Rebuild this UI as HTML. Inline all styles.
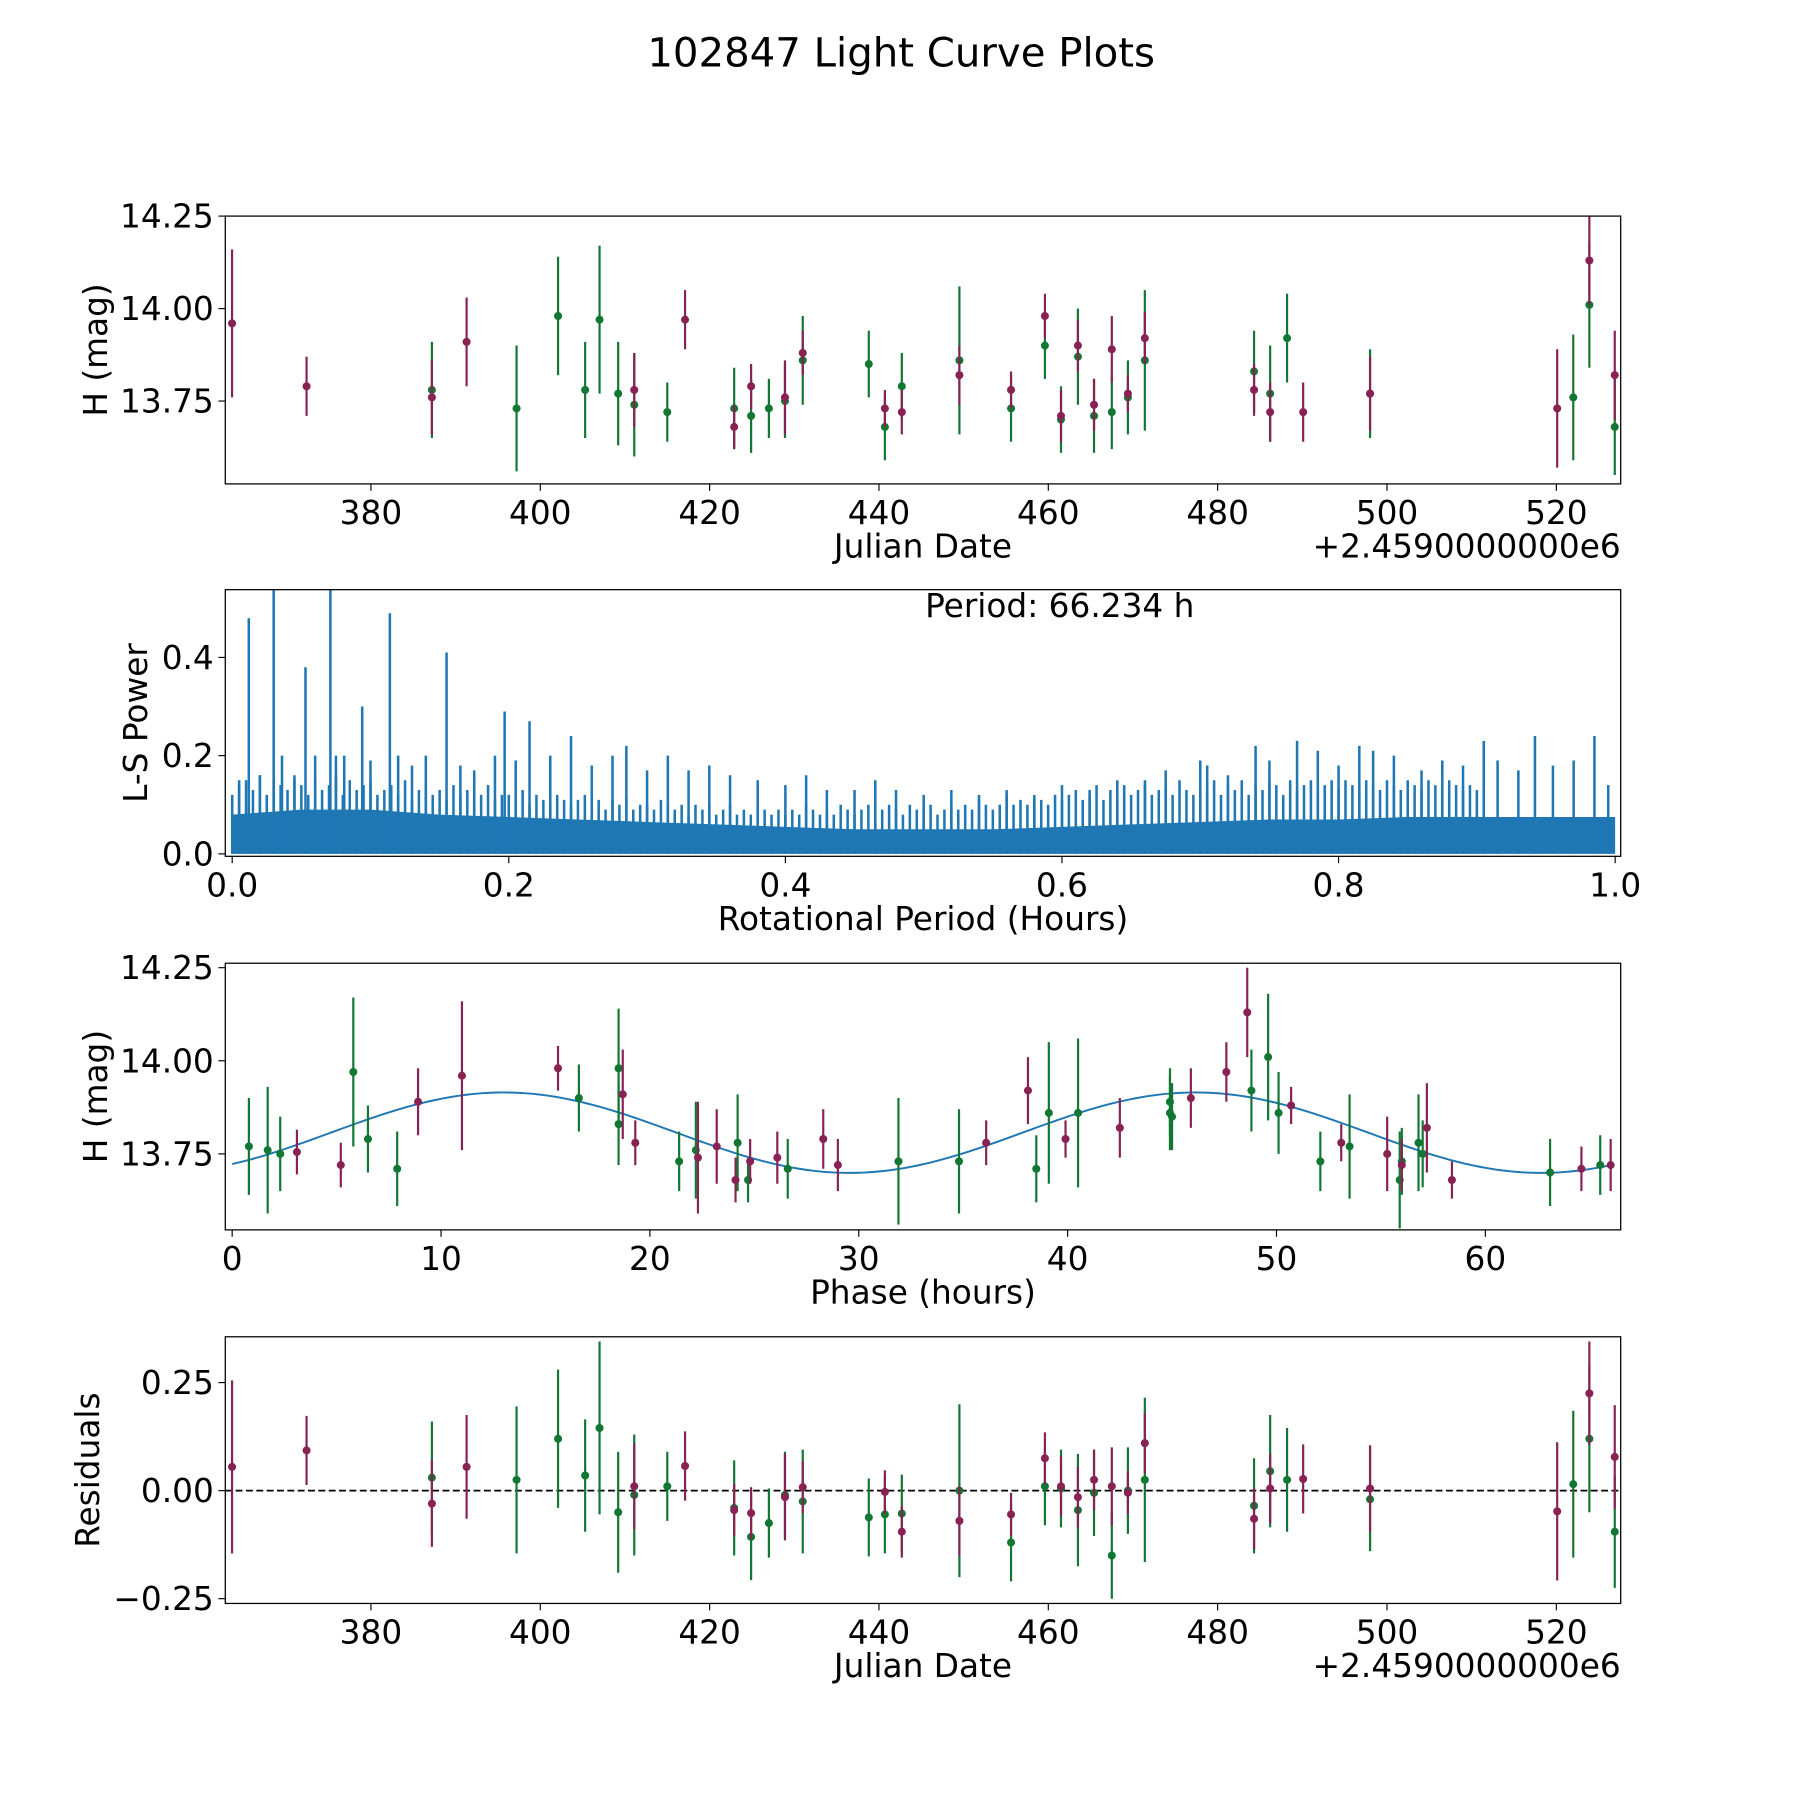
<!DOCTYPE html>
<html><head><meta charset="utf-8"><style>
html,body{margin:0;padding:0;background:#fff}
svg{display:block;font-family:"DejaVu Sans","Liberation Sans",sans-serif}
</style></head><body>
<svg id="fig" width="1800" height="1800" viewBox="0 0 1566 1566" xmlns="http://www.w3.org/2000/svg">
<text x="784" y="58" font-size="35" text-anchor="middle">102847 Light Curve Plots</text>
</svg>
<script>
// ---- Panel 1: light curve (Julian date offset, H mag, error) ----
const lcPurpleJD=[363.6,372.4,387.2,391.3,411.1,417.1,422.9,424.9,428.9,431.0,440.7,442.7,449.5,455.6,459.6,461.5,463.5,465.4,467.5,469.4,471.4,484.3,486.2,490.1,498.0,520.1,523.9,526.9];
const lcPurpleMag=[13.96,13.79,13.76,13.91,13.78,13.97,13.68,13.79,13.76,13.88,13.73,13.72,13.82,13.78,13.98,13.71,13.90,13.74,13.89,13.77,13.92,13.78,13.72,13.72,13.77,13.73,14.13,13.82];
const lcPurpleErr=[0.2,0.08,0.1,0.12,0.1,0.08,0.06,0.06,0.1,0.06,0.05,0.06,0.08,0.05,0.06,0.07,0.07,0.07,0.09,0.05,0.07,0.07,0.08,0.08,0.1,0.16,0.12,0.12];
const lcGreenJD=[387.2,397.2,402.1,405.3,407.0,409.2,411.1,415.0,422.9,424.9,427.0,428.9,431.0,438.8,440.7,442.7,449.5,455.6,459.6,461.5,463.5,465.4,467.5,469.4,471.4,484.3,486.2,488.2,498.0,522.0,523.9,526.9];
const lcGreenMag=[13.78,13.73,13.98,13.78,13.97,13.77,13.74,13.72,13.73,13.71,13.73,13.75,13.86,13.85,13.68,13.79,13.86,13.73,13.90,13.70,13.87,13.71,13.72,13.76,13.86,13.83,13.77,13.92,13.77,13.76,14.01,13.68];
const lcGreenErr=[0.13,0.17,0.16,0.13,0.2,0.14,0.14,0.08,0.11,0.1,0.08,0.1,0.12,0.09,0.09,0.09,0.2,0.09,0.09,0.09,0.13,0.1,0.1,0.1,0.19,0.11,0.13,0.12,0.12,0.17,0.17,0.13];
// ---- Panel 4: residuals ----
const resPurple=[0.055,0.093,-0.03,0.055,0.01,0.057,-0.045,-0.052,-0.015,0.008,-0.003,-0.095,-0.07,-0.055,0.075,0.01,-0.015,0.025,0.01,-0.005,0.11,-0.065,0.005,0.027,0.005,-0.048,0.225,0.078];
const resGreen=[0.03,0.025,0.12,0.035,0.145,-0.05,-0.01,0.01,-0.04,-0.107,-0.075,-0.01,-0.025,-0.062,-0.055,-0.053,0.0,-0.12,0.01,0.005,-0.045,-0.005,-0.15,0.0,0.025,-0.035,0.045,0.025,-0.02,0.015,0.12,-0.095];
// ---- Panel 2: periodogram ----
const pgEnvX=[0,0.05,0.1,0.15,0.2,0.25,0.3,0.35,0.4,0.45,0.5,0.55,0.6,0.65,0.7,0.75,0.8,0.85,0.9,0.95,1.0];
const pgEnvP=[0.08,0.09,0.09,0.08,0.075,0.07,0.065,0.06,0.055,0.05,0.05,0.05,0.055,0.06,0.065,0.07,0.07,0.075,0.075,0.075,0.075];
const pgPeakX=[0.005,0.012,0.02,0.03,0.036,0.045,0.053,0.06,0.071,0.075,0.081,0.094,0.1,0.114,0.12,0.13,0.14,0.155,0.165,0.175,0.19,0.197,0.205,0.215,0.23,0.245,0.26,0.275,0.285,0.3,0.315,0.33,0.345,0.36,0.38,0.4,0.415,0.43,0.45,0.465,0.48,0.5,0.52,0.54,0.56,0.58,0.6,0.62,0.64,0.66,0.675,0.7,0.705,0.72,0.74,0.75,0.77,0.785,0.8,0.815,0.825,0.84,0.86,0.875,0.89,0.905,0.915,0.93,0.942,0.955,0.97,0.985,0.995];
const pgPeakP=[0.15,0.48,0.16,0.55,0.2,0.15,0.38,0.2,0.55,0.2,0.2,0.3,0.19,0.49,0.2,0.18,0.2,0.41,0.18,0.17,0.2,0.29,0.19,0.27,0.2,0.24,0.18,0.2,0.22,0.17,0.2,0.17,0.18,0.16,0.15,0.14,0.16,0.13,0.13,0.15,0.13,0.12,0.13,0.12,0.13,0.11,0.14,0.13,0.15,0.14,0.17,0.19,0.18,0.16,0.22,0.19,0.23,0.21,0.18,0.22,0.21,0.2,0.17,0.19,0.18,0.23,0.19,0.17,0.24,0.18,0.19,0.24,0.14];
// secondary (noise-level) spikes, one every 0.005 in period
const pgNoiseP=[0.12,0.14,0.15,0.13,0.16,0.12,0.15,0.14,0.13,0.16,0.14,0.12,0.15,0.13,0.14,0.16,0.12,0.15,0.13,0.14,0.15,0.12,0.13,0.14,0.12,0.15,0.11,0.13,0.14,0.12,0.13,0.11,0.14,0.12,0.13,0.11,0.12,0.14,0.11,0.12,
0.12,0.11,0.13,0.1,0.12,0.11,0.1,0.12,0.11,0.1,0.11,0.12,0.1,0.11,0.09,0.11,0.1,0.12,0.09,0.1,0.1,0.09,0.11,0.1,0.09,0.1,0.08,0.1,0.09,0.1,0.08,0.09,0.1,0.08,0.09,0.08,0.1,0.09,0.08,0.09,
0.08,0.09,0.08,0.1,0.09,0.08,0.09,0.08,0.1,0.09,0.08,0.09,0.1,0.08,0.09,0.1,0.09,0.08,0.1,0.09,0.09,0.1,0.08,0.09,0.1,0.09,0.1,0.09,0.11,0.1,0.09,0.1,0.12,0.1,0.11,0.1,0.12,0.11,0.1,0.12,
0.11,0.12,0.13,0.11,0.12,0.14,0.11,0.13,0.12,0.14,0.12,0.13,0.15,0.12,0.13,0.14,0.12,0.15,0.13,0.12,0.14,0.13,0.15,0.12,0.14,0.13,0.15,0.12,0.14,0.13,0.15,0.14,0.12,0.15,0.13,0.14,0.15,0.13,0.14,0.15,
0.13,0.15,0.14,0.13,0.15,0.14,0.13,0.15,0.14,0.13,0.15,0.14,0.13,0.15,0.14,0.13,0.15,0.14,0.13,0.14,0.13];
// ---- Panel 3: phased light curve ----
const phPurpleT=[5.2,3.1,11.0,8.9,15.6,18.7,19.3,22.3,23.2,24.8,26.1,28.3,29.0,24.1,36.1,38.1,39.9,42.5,45.9,47.6,48.6,50.7,53.1,55.3,56.0,57.2,58.4,64.6,66.0];
const phPurpleMag=[13.72,13.755,13.96,13.89,13.98,13.91,13.78,13.74,13.77,13.73,13.74,13.79,13.72,13.68,13.78,13.92,13.79,13.82,13.90,13.97,14.13,13.88,13.78,13.75,13.72,13.82,13.68,13.71,13.72];
const phPurpleErr=[0.06,0.06,0.2,0.09,0.06,0.12,0.06,0.15,0.1,0.06,0.07,0.08,0.07,0.06,0.06,0.09,0.05,0.08,0.08,0.08,0.12,0.05,0.05,0.1,0.07,0.12,0.05,0.06,0.07];
const phGreenT=[0.8,1.7,2.3,5.8,6.5,7.9,16.6,18.5,18.5,21.4,22.2,24.2,24.7,26.6,31.9,34.8,38.5,39.1,40.5,44.9,44.9,45.0,48.8,49.6,50.1,52.1,53.5,55.9,56.0,56.8,57.0,63.1,65.5];
const phGreenMag=[13.77,13.76,13.75,13.97,13.79,13.71,13.90,13.98,13.83,13.73,13.76,13.78,13.68,13.71,13.73,13.73,13.71,13.86,13.86,13.89,13.86,13.85,13.92,14.01,13.86,13.73,13.77,13.68,13.73,13.78,13.75,13.70,13.72];
const phGreenErr=[0.13,0.17,0.1,0.2,0.09,0.1,0.09,0.16,0.11,0.08,0.13,0.13,0.06,0.08,0.17,0.14,0.09,0.19,0.2,0.09,0.1,0.09,0.11,0.17,0.11,0.08,0.14,0.13,0.09,0.13,0.09,0.09,0.08];
const fitMean=13.807, fitAmp=0.108, fitPeriod=33.117, fitPeak=13.0;
const PURPLE="#882255", GREEN="#117733", BLUE="#1f77b4";
const NS="http://www.w3.org/2000/svg";
const svg=document.getElementById('fig');
const L=196,R=1410,FS=28.5;
function mk(tag,attrs,parent){const e=document.createElementNS(NS,tag);for(const k in attrs)e.setAttribute(k,attrs[k]);(parent||svg).appendChild(e);return e;}
function lin(d0,d1,r0,r1){return v=>r0+(v-d0)*(r1-r0)/(d1-d0);}
function axes(name,top,bot,xd,yd,xticks,xfmt,yticks,yfmt,xlabel,ylabel,offset){
  const g=mk('g',{});
  
  
  const sx=lin(xd[0],xd[1],L,R), sy=lin(yd[0],yd[1],bot,top);
  const xa=mk('g',{},g);
  
  
  xticks.forEach(t=>{const x=sx(t);mk('line',{x1:x,x2:x,y1:bot,y2:bot+6,stroke:'#000','stroke-width':1},xa);
    const tx=mk('text',{x:x,y:bot+35,'font-size':FS,'text-anchor':'middle'},xa);tx.textContent=xfmt(t);
    
    });
  const ya=mk('g',{},g);
  
  
  yticks.forEach(t=>{const y=sy(t);mk('line',{x1:L-6,x2:L,y1:y,y2:y,stroke:'#000','stroke-width':1},ya);
    const tx=mk('text',{x:L-10,y:y+10,'font-size':FS,'text-anchor':'end'},ya);tx.textContent=yfmt(t);
    
    });
  const xl=mk('text',{x:(L+R)/2,y:bot+64,'font-size':FS,'text-anchor':'middle'},g);xl.textContent=xlabel;
  
  
  const yl=mk('text',{x:0,y:0,'font-size':FS,'text-anchor':'middle',transform:`translate(${ylabel[1]},${(top+bot)/2}) rotate(-90)`},g);yl.textContent=ylabel[0];
  
  
  if(offset){const o=mk('text',{x:R,y:bot+64,'font-size':FS,'text-anchor':'end'},g);o.textContent=offset;
    
    }
  const clip='c'+name;const cp=mk('clipPath',{id:clip},g);mk('rect',{x:L,y:top,width:R-L,height:bot-top},cp);
  const plot=mk('g',{'clip-path':`url(#${clip})`},g);
  
  
  return {g,sx,sy,plot,top,bot};
}
function frame(a){const f=mk('rect',{x:L,y:a.top,width:R-L,height:a.bot-a.top,fill:'none',stroke:'#000','stroke-width':1.1},a.g);
  
  }
function errSeries(a,xs,ys,es,color,name){
  xs.forEach((x,i)=>{const px=a.sx(x);
    const l=mk('line',{x1:px,x2:px,y1:a.sy(ys[i]-es[i]),y2:a.sy(ys[i]+es[i]),stroke:color,'stroke-width':1.9},a.plot);
    
    
    const c=mk('circle',{cx:px,cy:a.sy(ys[i]),r:3.5,fill:color},a.plot);
    
    });
}
const jdTicks=[380,400,420,440,460,480,500,520];
// Panel 1
const a1=axes('light-curve-panel',188,421,[362.8,527.6],[13.526,14.25],jdTicks,String,[13.75,14.0,14.25],v=>v.toFixed(2),'Julian Date',['H (mag)',93],'+2.4590000000e6');
errSeries(a1,lcGreenJD,lcGreenMag,lcGreenErr,GREEN,'green');
errSeries(a1,lcPurpleJD,lcPurpleMag,lcPurpleErr,PURPLE,'purple');
frame(a1);
// Panel 2
const a2=axes('periodogram-panel',513,745,[-0.005,1.004],[-0.005,0.538],[0,0.2,0.4,0.6,0.8,1.0],v=>v.toFixed(1),[0,0.2,0.4],v=>v.toFixed(1),'Rotational Period (Hours)',['L-S Power',128],null);
let pts=`${a2.sx(0)},${a2.sy(0)} `+pgEnvX.map((x,i)=>`${a2.sx(x)},${a2.sy(pgEnvP[i])}`).join(' ')+` ${a2.sx(1)},${a2.sy(0)}`;
const env=mk('polygon',{points:pts,fill:BLUE},a2.plot);


pgNoiseP.forEach((p,i)=>{const x=i*0.005;const l=mk('line',{x1:a2.sx(x),x2:a2.sx(x),y1:a2.sy(0),y2:a2.sy(p),stroke:BLUE,'stroke-width':2.2},a2.plot);
  
  });
pgPeakX.forEach((x,i)=>{const l=mk('line',{x1:a2.sx(x),x2:a2.sx(x),y1:a2.sy(0),y2:a2.sy(pgPeakP[i]),stroke:BLUE,'stroke-width':2.2},a2.plot);
  
  });
const pt=mk('text',{x:922,y:537,'font-size':FS,'text-anchor':'middle'},a2.g);pt.textContent='Period: 66.234 h';


frame(a2);
// Panel 3
const a3=axes('phase-panel',838,1070,[-0.33,66.48],[13.546,14.262],[0,10,20,30,40,50,60],String,[13.75,14.0,14.25],v=>v.toFixed(2),'Phase (hours)',['H (mag)',93],null);
let d='';for(let t=0;t<=66.234;t+=0.25){const y=fitMean+fitAmp*Math.cos(2*Math.PI*(t-fitPeak)/fitPeriod);d+=(d?'L':'M')+a3.sx(t).toFixed(2)+','+a3.sy(y).toFixed(2);}
const fit=mk('path',{d:d,fill:'none',stroke:BLUE,'stroke-width':1.7},a3.plot);


errSeries(a3,phGreenT,phGreenMag,phGreenErr,GREEN,'green');
errSeries(a3,phPurpleT,phPurpleMag,phPurpleErr,PURPLE,'purple');
frame(a3);
// Panel 4
const a4=axes('residuals-panel',1163,1395,[362.8,527.6],[-0.261,0.356],jdTicks,String,[-0.25,0,0.25],v=>(v<0?'\u2212':'')+Math.abs(v).toFixed(2),'Julian Date',['Residuals',86],'+2.4590000000e6');
const zl=mk('line',{x1:L,x2:R,y1:a4.sy(0),y2:a4.sy(0),stroke:'#000','stroke-width':1.5,'stroke-dasharray':'6,3'},a4.plot);


errSeries(a4,lcGreenJD,resGreen,lcGreenErr,GREEN,'green');
errSeries(a4,lcPurpleJD,resPurple,lcPurpleErr,PURPLE,'purple');
frame(a4);
</script>
</body></html>
